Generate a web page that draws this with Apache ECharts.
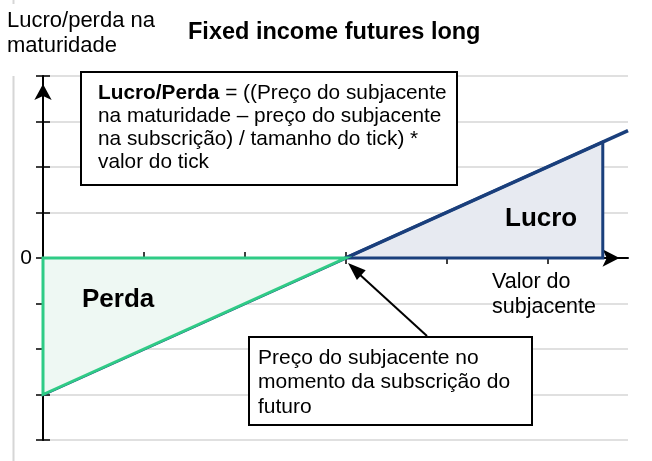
<!DOCTYPE html>
<html lang="pt">
<head>
    <meta charset="UTF-8">
    <title>Fixed income futures long</title>
    <style>
        html, body { margin: 0; padding: 0; background: #fff; }
    </style>
</head>
<body>

    <script src="https://cdn.jsdelivr.net/npm/echarts@6/dist/echarts.min.js"></script>

    <div id="main" style="width: 652px;height:461px;"></div>

    <script>
        // dados do gráfico (unidades do eixo)
        var xTickValues = [1, 2, 3, 4, 5];
        var yLabelValues = [0];
        var payoffLine = [[0, -3], [5.8, 2.8]];          // lucro/perda do futuro long
        var lossArea = [[0, 0], [3, 0], [0, -3]];        // Perda
        var profitArea = [[3, 0], [5.55, 0], [5.55, 2.55]]; // Lucro

        var FONT = "'Liberation Sans', Arial, sans-serif";
        var NAVY = '#1a3f7c';
        var GREEN = '#2fcb86';

        function polygonSeries(points, fill, stroke, width) {
            return {
                type: 'custom',
                data: points,
                encode: { x: 0, y: 1 },
                silent: true,
                renderItem: function (params, api) {
                    if (params.dataIndex !== 0) return;
                    var pts = points.map(function (p) { return api.coord(p); });
                    return {
                        type: 'polygon',
                        shape: { points: pts },
                        style: { fill: fill, stroke: stroke, lineWidth: width, lineJoin: 'miter' }
                    };
                }
            };
        }

        var myChart = echarts.init(document.getElementById('main'));

        var xBase = { type: 'value', min: 0, max: 5.8, gridIndex: 0 };
        var yBase = { type: 'value', min: -4, max: 4, interval: 1, gridIndex: 0 };

        var option = {
            animation: false,
            textStyle: { fontFamily: FONT },
            title: {
                text: 'Fixed income futures long',
                left: 188,
                top: 21,
                padding: 0,
                textStyle: { fontSize: 23.5, fontWeight: 'bold', color: '#000', fontFamily: FONT, lineHeight: 24 }
            },
            grid: { left: 43, top: 76, right: 24, bottom: 21 },
            xAxis: [
                Object.assign({}, xBase, {
                    position: 'bottom',
                    axisLine: {
                        onZero: true, onZeroAxisIndex: 0,
                        symbol: ['none', 'arrow'], symbolSize: [13, 17], symbolOffset: [0, -8.5],
                        lineStyle: { color: '#000', width: 2 }
                    },
                    axisTick: { show: true, inside: false, length: 6, customValues: xTickValues, lineStyle: { color: '#000', width: 1.5 } },
                    axisLabel: { show: false },
                    splitLine: { show: false }
                }),
                // segundo eixo só para os ticks do lado de cima
                Object.assign({}, xBase, {
                    position: 'bottom',
                    axisLine: { show: false, onZero: true, onZeroAxisIndex: 0 },
                    axisTick: { show: true, inside: true, length: 6, customValues: xTickValues, lineStyle: { color: '#000', width: 1.5 } },
                    axisLabel: { show: false },
                    splitLine: { show: false }
                })
            ],
            yAxis: [
                Object.assign({}, yBase, {
                    position: 'left',
                    axisLine: {
                        show: true, onZero: true,
                        symbol: ['none', 'arrow'], symbolSize: [13, 16], symbolOffset: [0, -8],
                        lineStyle: { color: '#000', width: 2 }
                    },
                    axisTick: { show: true, inside: false, length: 7, lineStyle: { color: '#000', width: 1.5 } },
                    axisLabel: { show: true, customValues: yLabelValues, margin: 11, fontSize: 21, color: '#000', fontFamily: FONT },
                    splitLine: { show: true, lineStyle: { color: '#d6d6d6', width: 1.5 } }
                }),
                Object.assign({}, yBase, {
                    position: 'left',
                    axisLine: { show: false },
                    axisTick: { show: true, inside: true, length: 7, lineStyle: { color: '#000', width: 1.5 } },
                    axisLabel: { show: false },
                    splitLine: { show: false }
                })
            ],
            series: [
                {
                    type: 'line',
                    data: payoffLine,
                    symbol: 'none',
                    silent: true,
                    lineStyle: { color: NAVY, width: 3.5 },
                    z: 2
                },
                Object.assign(polygonSeries(profitArea, '#e7eaf1', NAVY, 3), { z: 1 }),
                Object.assign(polygonSeries(lossArea, '#eef8f3', GREEN, 3), { z: 3 })
            ],
            graphic: [
                // linha cinzenta vertical à esquerda
                { type: 'line', z: 0, shape: { x1: 13.5, y1: 76, x2: 13.5, y2: 461 }, style: { stroke: '#d6d6d6', lineWidth: 2 } },
                { type: 'line', z: 0, shape: { x1: 13.5, y1: 0, x2: 13.5, y2: 4 }, style: { stroke: '#d6d6d6', lineWidth: 2 } },
                {
                    type: 'text', z: 100, x: 7, y: 8.5,
                    style: { text: 'Lucro/perda na\nmaturidade', fontSize: 22, lineHeight: 25, fontFamily: FONT, fill: '#000', verticalAlign: 'top' }
                },
                // caixa da fórmula
                { type: 'rect', z: 100, shape: { x: 81, y: 72, width: 376, height: 113 }, style: { fill: '#fff', stroke: '#000', lineWidth: 2 } },
                {
                    type: 'text', z: 101, x: 98, y: 81.5,
                    style: {
                        text: '{b|Lucro/Perda} = ((Preço do subjacente\nna maturidade – preço do subjacente\nna subscrição) / tamanho do tick) *\nvalor do tick',
                        fontSize: 20.8, lineHeight: 23, fontFamily: FONT, fill: '#000', verticalAlign: 'top',
                        rich: { b: { fontWeight: 'bold', fontSize: 20.8, lineHeight: 23, fontFamily: FONT, fill: '#000' } }
                    }
                },
                // caixa do preço na subscrição
                { type: 'rect', z: 100, shape: { x: 249, y: 337, width: 283, height: 88 }, style: { fill: '#fff', stroke: '#000', lineWidth: 2 } },
                {
                    type: 'text', z: 101, x: 258, y: 345.5,
                    style: { text: 'Preço do subjacente no\nmomento da subscrição do\nfuturo', fontSize: 21, lineHeight: 24.5, fontFamily: FONT, fill: '#000', verticalAlign: 'top' }
                },
                // seta
                { type: 'line', z: 100, shape: { x1: 427, y1: 336, x2: 358, y2: 273 }, style: { stroke: '#000', lineWidth: 2 } },
                { type: 'polygon', z: 100, shape: { points: [[348, 263], [365.7, 270.3], [356.9, 279.9]] }, style: { fill: '#000' } },
                {
                    type: 'text', z: 100, x: 82, y: 287,
                    style: { text: 'Perda', fontSize: 26, fontWeight: 'bold', lineHeight: 26, fontFamily: FONT, fill: '#000', verticalAlign: 'top' }
                },
                {
                    type: 'text', z: 100, x: 505, y: 206,
                    style: { text: 'Lucro', fontSize: 26, fontWeight: 'bold', lineHeight: 26, fontFamily: FONT, fill: '#000', verticalAlign: 'top' }
                },
                {
                    type: 'text', z: 100, x: 492, y: 270,
                    style: { text: 'Valor do\nsubjacente', fontSize: 21.5, lineHeight: 24.5, fontFamily: FONT, fill: '#000', verticalAlign: 'top' }
                }
            ]
        };

        myChart.setOption(option);
    </script>

</body>
</html>
